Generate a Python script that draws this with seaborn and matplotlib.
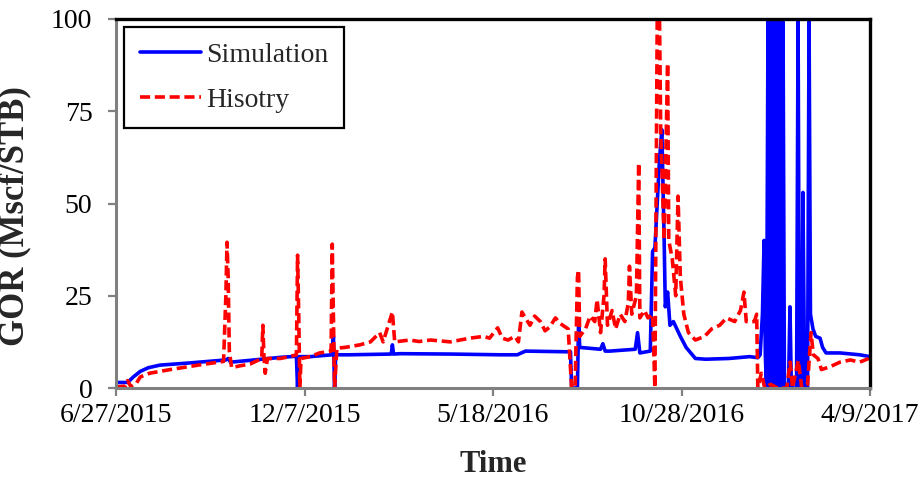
import numpy as np
import pandas as pd
import matplotlib
matplotlib.use("Agg")
import matplotlib.pyplot as plt
import seaborn as sns

# ---------------- data ----------------
start_date = "2015-06-27"
tick_labels = ["6/27/2015", "12/7/2015", "5/18/2016", "10/28/2016", "4/9/2017"]
y_ticks = [0, 25, 50, 75, 100]

# days since start, GOR (Mscf/STB)
sim_days = [0, 10, 15, 21, 28, 38, 64, 95, 97, 99, 116, 142, 156, 157, 158, 168,
            187, 188, 189, 190, 202, 238, 239, 240, 246, 289, 332, 347, 354, 393, 394, 399, 400,
            401, 419, 421, 423, 427, 449, 451, 453, 462, 464, 466, 468, 470, 472,
            474, 475, 477, 479, 482, 485, 488, 493, 497, 501, 510, 530, 548, 555,
            557, 559, 560.4, 561.5, 562.5,
            563.8, 564.3, 564.8, 565.3, 565.8, 566.3, 566.8, 567.3, 567.8, 568.3,
            568.8, 569.3, 569.8, 570.3, 570.8, 571.3, 571.8, 572.3, 572.8, 573.3,
            573.8, 574.3, 574.8, 575.3, 575.8, 576.3, 576.8,
            578, 581.5, 582.8, 584, 588.5, 589.8, 591, 593, 594, 595.5, 598, 599.3,
            600.5, 602.7, 605, 608.8, 611, 614, 626, 643, 652]
sim_gor = [1.5, 1.5, 3.0, 4.5, 5.5, 6.2, 6.8, 7.6, 8.0, 7.0, 7.5, 8.3, 8.6, 0.0, 8.5, 8.5,
           9.0, 14.0, 0.0, 9.0, 9.0, 9.2, 11.7, 9.2, 9.3, 9.2, 9.0, 9.0, 10.0, 9.8, 0.0, 0.0, 18.0,
           11.0, 10.5, 12.0, 10.0, 10.0, 10.5, 15.0, 9.5, 10.0, 37.0, 38.0, 50.0, 62.0, 70.0,
           40.0, 22.0, 26.0, 17.0, 18.0, 16.0, 14.0, 11.0, 9.5, 8.0, 7.8, 8.0, 8.5, 8.2,
           9.0, 20.0, 40.0, 9.0, 0.0,
           100, 0, 100, 0, 100, 0, 100, 0, 100, 0,
           100, 0, 100, 0, 100, 0, 100, 0, 100, 0,
           100, 0, 100, 0, 100, 0, 100,
           0, 0, 22.0, 0, 0, 100, 0, 0, 53.0, 0, 0, 100,
           20.0, 16.0, 14.0, 13.5, 11.0, 9.5, 9.5, 9.0, 8.5]

hist_days = [0, 8, 10, 13, 17, 21, 29, 47, 73, 93, 95, 96, 97, 98, 100, 107, 116,
             126, 127, 128, 129, 131, 142, 150, 156, 157, 158, 159, 160, 168, 176,
             186, 187, 188, 189, 191, 198, 211, 220, 228, 231, 239, 241, 254, 262, 272, 289,
             306, 318, 323, 330, 334, 339, 345, 348, 351, 354, 358, 362, 367, 371, 375,
             380, 384, 391, 394, 397, 399, 400, 401, 406, 410, 414, 416, 419, 422,
             423, 425, 429, 432, 436, 440, 443, 444, 446, 450, 452, 453, 457, 460,
             464, 466, 468, 470, 471, 474, 477, 478, 481, 484, 486, 488, 491, 495,
             501, 509, 515, 522, 528, 535, 540, 543, 545, 552, 554, 555, 558, 561,
             566, 572, 580, 583, 585, 590, 593, 598, 601, 603, 607, 610, 617, 626,
             635, 643, 651, 652]
hist_gor = [0.3, 0.5, 2.0, 0.3, 1.0, 3.0, 4.0, 5.0, 6.3, 7.2, 25.0, 39.5, 30.0, 10.0, 5.5, 6.0, 6.5,
            8.0, 17.0, 8.0, 4.0, 8.0, 8.0, 8.5, 9.0, 36.0, 20.0, 0.0, 8.0, 8.5, 9.5,
            10.0, 39.0, 20.0, 0.0, 10.8, 11.0, 11.7, 12.5, 15.0, 12.5, 20.6, 12.5, 13.0, 12.6, 13.0, 12.5,
            13.5, 14.0, 13.5, 16.3, 13.5, 13.0, 14.0, 12.5, 20.6, 19.0, 17.0, 19.5, 18.0, 15.5, 16.5,
            19.0, 17.5, 16.0, 0.0, 0.0, 30.0, 32.0, 14.0, 16.0, 19.5, 18.0, 24.0, 15.0, 25.0,
            35.0, 17.0, 21.0, 16.0, 20.0, 18.0, 23.0, 33.0, 20.0, 25.0, 61.0, 19.0, 21.0, 19.0,
            20.0, 0.0, 100.0, 100.0, 70.0, 40.0, 88.0, 40.0, 35.0, 25.0, 52.0, 30.0, 20.0, 15.0,
            13.0, 14.0, 16.0, 17.0, 19.0, 18.0, 21.0, 26.0, 18.0, 18.0, 20.0, 0.0, 4.0, 0.0,
            1.0, 0.0, 0.0, 7.0, 0.0, 7.5, 0.0, 1.0, 15.0, 9.0, 8.0, 5.0, 5.7, 7.0,
            7.6, 7.0, 8.0, 9.0]

# ---------------- frames ----------------
t0 = pd.Timestamp(start_date)
sim = pd.DataFrame({"date": t0 + pd.to_timedelta(sim_days, unit="D"), "GOR": sim_gor})
hist = pd.DataFrame({"date": t0 + pd.to_timedelta(hist_days, unit="D"), "GOR": hist_gor})
tick_dates = pd.to_datetime(tick_labels, format="%m/%d/%Y")

# ---------------- style ----------------
sns.set_theme(style="white")
plt.rcParams["font.family"] = ["Liberation Serif", "DejaVu Serif"]

fig = plt.figure(figsize=(9.22, 4.79), dpi=100)
ax = fig.add_axes([116 / 922, 1 - 388 / 479, 754 / 922, 369 / 479])

sns.lineplot(data=sim, x="date", y="GOR", color="#0000FF", linewidth=2.6,
             estimator=None, sort=False, ax=ax, label="Simulation")
sns.lineplot(data=hist, x="date", y="GOR", color="#FF0000", linewidth=2.6,
             linestyle=(0, (2.8, 1.3)), estimator=None, sort=False, ax=ax, label="Hisotry")

ax.set_xlim(tick_dates[0], tick_dates[-1])
ax.set_ylim(0, 100)
ax.set_xticks(tick_dates)
ax.set_xticklabels(tick_labels)
ax.set_yticks(y_ticks)
ax.set_yticklabels([str(v) for v in y_ticks])

for side in ["left", "bottom"]:
    ax.spines[side].set_color("#808080")
    ax.spines[side].set_linewidth(2.2)
for side in ["top", "right"]:
    ax.spines[side].set_color("black")
    ax.spines[side].set_linewidth(2.4)

ax.tick_params(axis="both", direction="out", length=6, width=1.6, color="#808080",
               labelcolor="black", labelsize=20)
ax.tick_params(axis="x", pad=5)
ax.tick_params(axis="y", pad=11)
ax.xaxis.set_ticks_position("bottom")
ax.yaxis.set_ticks_position("left")

ax.set_xlabel("Time", fontsize=22, fontweight="bold", labelpad=16)
ax.set_ylabel("GOR (Mscf/STB)", fontsize=25, fontweight="bold")
ax.yaxis.set_label_coords(-0.112, 0.466)

leg = ax.legend(loc="upper left", bbox_to_anchor=(0, 1), borderaxespad=0.3,
                fontsize=20, frameon=True, fancybox=False, edgecolor="black",
                framealpha=1, handlelength=2.2, handletextpad=0.2,
                labelspacing=0.7, borderpad=0.55)
leg.get_frame().set_linewidth(1.6)

fig.savefig("out.png", dpi=100)
